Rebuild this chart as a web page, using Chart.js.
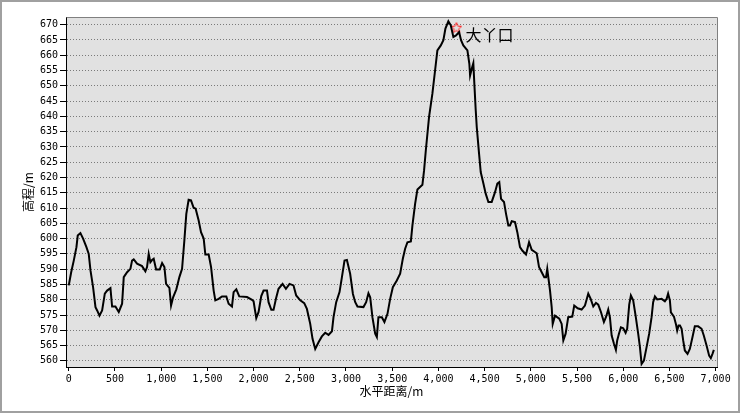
<!DOCTYPE html>
<html>
<head>
<meta charset="utf-8">
<script src="https://cdn.jsdelivr.net/npm/chart.js@4"></script>
<style>
  html, body { margin: 0; padding: 0; background: #fff; }
  #wrap { width: 740px; height: 413px; }
</style>
</head>
<body>
<div id="wrap"><canvas id="profile" width="740" height="413"></canvas></div>
<script>
// horizontal distance (m) and elevation (m)
const distance = [
  0, 26, 54, 83, 97, 126, 155, 191, 216, 235, 263, 289, 307, 332, 361, 390, 415, 451, 469, 505,
  541, 577, 595, 631, 667, 685, 703, 739, 793, 829, 847, 865, 883, 901, 919, 945, 984, 1010, 1035, 1053,
  1089, 1107, 1129, 1164, 1197, 1226, 1251, 1272, 1297, 1323, 1351, 1373, 1405, 1431, 1460, 1478, 1514, 1540, 1568, 1586,
  1622, 1658, 1705, 1730, 1766, 1784, 1813, 1845, 1929, 1983, 2000, 2029, 2054, 2083, 2108, 2145, 2162, 2192, 2216, 2242,
  2270, 2314, 2350, 2389, 2432, 2461, 2505, 2548, 2577, 2613, 2638, 2667, 2703, 2739, 2775, 2811, 2848, 2865, 2894, 2930,
  2956, 2984, 3010, 3045, 3075, 3100, 3124, 3189, 3218, 3243, 3262, 3286, 3316, 3334, 3351, 3388, 3416, 3449, 3478, 3507,
  3550, 3586, 3615, 3640, 3665, 3702, 3719, 3748, 3773, 3827, 3845, 3864, 3899, 3935, 3964, 3989, 4026, 4054, 4076, 4108,
  4134, 4162, 4191, 4224, 4245, 4270, 4314, 4335, 4343, 4361, 4378, 4389, 4404, 4415, 4440, 4458, 4487, 4512, 4541, 4577,
  4613, 4638, 4659, 4678, 4710, 4732, 4757, 4775, 4794, 4829, 4854, 4883, 4908, 4948, 4981, 5010, 5064, 5089, 5118, 5146,
  5165, 5178, 5208, 5226, 5237, 5262, 5308, 5334, 5352, 5377, 5405, 5449, 5470, 5507, 5550, 5586, 5622, 5648, 5676, 5705,
  5730, 5759, 5791, 5813, 5838, 5856, 5875, 5900, 5921, 5935, 5954, 5975, 6000, 6026, 6043, 6065, 6083, 6108, 6134, 6162,
  6181, 6199, 6224, 6253, 6281, 6307, 6324, 6343, 6368, 6416, 6451, 6470, 6486, 6505, 6516, 6549, 6570, 6584, 6599, 6614,
  6632, 6649, 6667, 6696, 6721, 6750, 6775, 6811, 6848, 6872, 6902, 6930, 6948, 6966, 6981
];
const elevation = [
  584.7, 589, 592.8, 597.2, 601, 601.8, 600, 597.2, 595, 589.6, 584.1, 577.6, 576.5, 574.8, 576.5, 582, 583, 583.8, 577.8, 577.8,
  576, 578.7, 587.4, 589, 590.1, 592.8, 593.2, 591.8, 591, 589.3, 590.7, 595, 592.3, 593, 593.4, 589.9, 589.9, 592, 590.7, 585.2,
  583.9, 578.1, 580.8, 583.4, 587.4, 590.1, 599.4, 608.1, 612.7, 612.5, 610.1, 609.8, 606, 602.1, 600, 594.8, 594.8, 590.7, 583, 579.8,
  580.3, 581.1, 581.1, 578.7, 577.8, 582.5, 583.4, 581.1, 580.9, 580, 579.5, 574, 576, 581.2, 583, 583, 579.2, 576.7, 576.7, 580.3,
  583.6, 585.2, 583.6, 585.2, 584.7, 581.4, 579.8, 578.9, 577, 572.1, 567.2, 563.9, 566.1, 568, 569.2, 568.5, 569.7, 574.3, 579.2, 582.5,
  587.4, 592.8, 593, 588.5, 581.9, 579.2, 577.8, 577.6, 579.2, 582.1, 580.8, 574.3, 568.9, 567.8, 574.3, 574.3, 572.7, 575.4, 580.3, 584.1,
  586.3, 588.5, 593.4, 596.7, 598.8, 599.1, 604.3, 611.4, 616.1, 617.6, 622.3, 628.9, 639.8, 647.4, 655, 661.6, 663.2, 664.9, 668.7, 671.1,
  669.8, 666, 666.5, 667.6, 664.9, 663.2, 661.6, 657.2, 653.4, 655.6, 657.4, 650.7, 642, 636.5, 627.8, 621.8, 618, 614.7, 612, 612,
  615.2, 618, 618.5, 613, 612, 608.1, 604.3, 604.3, 605.7, 605.4, 602.1, 597.2, 596.1, 594.8, 598.8, 596.3, 595.2, 590.7, 589, 587.4,
  587.4, 590.1, 583, 577.6, 572.1, 574.8, 573.8, 572.1, 566.7, 568.9, 574.3, 574.5, 578.1, 577.2, 576.8, 578.1, 582, 580.3, 577.8, 579,
  578.4, 576, 572.7, 574.3, 576.8, 574.3, 568.3, 565.6, 563.6, 566.7, 568.9, 571, 570.7, 569.2, 570.5, 578.4, 581.4, 579.8, 574.8, 568.9,
  564.5, 559, 560.1, 564.5, 568.9, 574.3, 579.2, 581.1, 580.1, 580.3, 579.5, 580.3, 582, 579.8, 575.9, 574.5, 572.1, 569.9, 571.6, 571.6,
  570.5, 566.7, 563.4, 562.3, 563.9, 567.8, 571.3, 571.3, 570.5, 568.3, 565, 561.7, 560.9, 562.3, 563.6
];

// named place on the profile
const markerName = "大丫口";
const markerX = [4195];
const markerY = [669];

// tick labels
const xTicks = [0, 500, 1000, 1500, 2000, 2500, 3000, 3500, 4000, 4500, 5000, 5500, 6000, 6500, 7000];
const yTicks = [560, 565, 570, 575, 580, 585, 590, 595, 600, 605, 610, 615, 620, 625, 630, 635, 640, 645, 650, 655, 660, 665, 670];

// small red outlined five-point star used as the point style
function starIcon() {
  const c = document.createElement("canvas");
  c.width = 12;
  c.height = 12;
  const g = c.getContext("2d");
  g.beginPath();
  for (let i = 0; i < 10; i++) {
    const r = i % 2 ? 2.4 : 5.5;
    const a = -Math.PI / 2 + (i * Math.PI) / 5;
    const px = 6 + r * Math.cos(a);
    const py = 6.3 + r * Math.sin(a);
    i ? g.lineTo(px, py) : g.moveTo(px, py);
  }
  g.closePath();
  g.strokeStyle = "#ff2020";
  g.lineWidth = 1;
  g.stroke();
  return c;
}

const frame = {
  id: "frame",
  beforeDraw(chart) {
    const { ctx, chartArea: a } = chart;
    ctx.save();
    ctx.fillStyle = "#ffffff";
    ctx.fillRect(0, 0, chart.width, chart.height);
    ctx.fillStyle = "#e1e1e1";
    ctx.fillRect(a.left, a.top, a.right - a.left, a.bottom - a.top);
    ctx.restore();
  },
  afterDraw(chart) {
    const { ctx, chartArea: a } = chart;
    ctx.save();
    ctx.strokeStyle = "#808080";
    ctx.lineWidth = 1;
    ctx.beginPath();
    ctx.moveTo(Math.round(a.left) + 0.5, Math.round(a.top) + 0.5);
    ctx.lineTo(Math.round(a.right) + 0.5, Math.round(a.top) + 0.5);
    ctx.lineTo(Math.round(a.right) + 0.5, Math.round(a.bottom));
    ctx.stroke();
    ctx.strokeStyle = "#a0a0a0";
    ctx.lineWidth = 2;
    ctx.strokeRect(1, 1, chart.width - 2, chart.height - 2);
    ctx.restore();
  },
};

const placeLabel = {
  id: "placeLabel",
  afterDatasetsDraw(chart) {
    const pt = chart.getDatasetMeta(1).data[0];
    if (!pt) return;
    const { ctx } = chart;
    ctx.save();
    ctx.font = '16px "Noto Sans CJK SC"';
    ctx.fillStyle = "#000";
    ctx.textBaseline = "middle";
    ctx.fillText(markerName, pt.x + 9, pt.y + 7);
    ctx.restore();
  },
};

new Chart(document.getElementById("profile"), {
  type: "line",
  data: {
    datasets: [
      {
        data: distance.map((d, i) => ({ x: d, y: elevation[i] })),
        borderColor: "#000",
        borderWidth: 2,
        pointRadius: 0,
        tension: 0,
      },
      {
        data: markerX.map((d, i) => ({ x: d, y: markerY[i] })),
        showLine: false,
        pointStyle: starIcon(),
        pointRadius: 6,
      },
    ],
  },
  options: {
    responsive: false,
    animation: false,
    layout: { padding: { left: 0, top: 17, right: 23, bottom: 0 } },
    plugins: { legend: { display: false }, tooltip: { enabled: false } },
    scales: {
      x: {
        type: "linear",
        min: -30,
        max: 7015,
        afterBuildTicks(s) {
          s.ticks = xTicks.map((v) => ({ value: v }));
        },
        afterFit(s) {
          s.height = 46;
        },
        ticks: {
          color: "#000",
          padding: 2,
          maxRotation: 0,
          autoSkip: false,
          font: { family: "DejaVu Sans Mono", size: 10 },
          callback: (v) => Number(v).toLocaleString("en-US"),
        },
        grid: { drawOnChartArea: false, tickLength: 4, tickColor: "#000" },
        border: { color: "#000", width: 1 },
        title: {
          display: true,
          text: "水平距离/m",
          color: "#000",
          font: { family: "Noto Sans CJK SC", size: 12 },
          padding: { top: 0, bottom: 14 },
        },
      },
      y: {
        min: 558,
        max: 672.5,
        afterBuildTicks(s) {
          s.ticks = yTicks.map((v) => ({ value: v }));
        },
        afterFit(s) {
          s.width = 66;
        },
        ticks: {
          color: "#000",
          padding: 2,
          autoSkip: false,
          font: { family: "DejaVu Sans Mono", size: 10 },
        },
        grid: {
          color: "#7a7a7a",
          tickColor: "#000",
          tickLength: 6,
          tickBorderDash: [],
        },
        border: { color: "#000", width: 1, dash: [1, 2] },
        title: {
          display: true,
          text: "高程/m",
          color: "#000",
          font: { family: "Noto Sans CJK SC", size: 12 },
          padding: { top: 21, bottom: 0 },
        },
      },
    },
  },
  plugins: [frame, placeLabel],
});
</script>
</body>
</html>
